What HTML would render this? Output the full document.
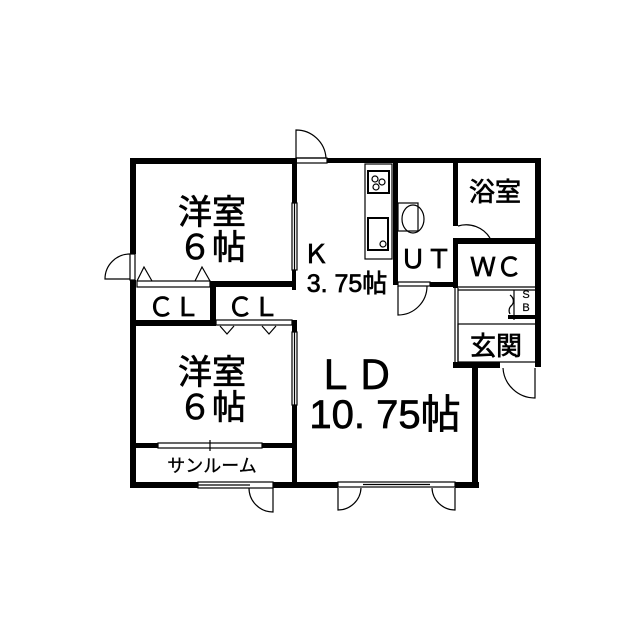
<!DOCTYPE html>
<html><head><meta charset="utf-8"><style>
html,body{margin:0;padding:0;background:#fff;}
svg{display:block}
text{font-family:"Liberation Sans","Noto Sans CJK JP",sans-serif;fill:#000;stroke:#000;stroke-width:0.7;}
</style></head><body>
<svg width="640" height="640" viewBox="0 0 640 640" xmlns="http://www.w3.org/2000/svg">
<rect width="640" height="640" fill="#fff"/>
<g fill="#000">
<rect x="130" y="158" width="6" height="96"/>
<rect x="130" y="280" width="6" height="208"/>
<rect x="130" y="158" width="166" height="6"/>
<rect x="327" y="158" width="213" height="5"/>
<rect x="292" y="158" width="5" height="45"/>
<rect x="292" y="270" width="4" height="20"/>
<rect x="130" y="281" width="6" height="45"/>
<rect x="210" y="281" width="86" height="6"/>
<rect x="210" y="281" width="6" height="45"/>
<rect x="130" y="320" width="86" height="6"/>
<rect x="292" y="320" width="5" height="12"/>
<rect x="292" y="405" width="5" height="83"/>
<rect x="130" y="443" width="28" height="5"/>
<rect x="262" y="443" width="35" height="5"/>
<rect x="130" y="482" width="68" height="6"/>
<rect x="273" y="482" width="65" height="6"/>
<rect x="455" y="482" width="24" height="6"/>
<rect x="472" y="362" width="6" height="126"/>
<rect x="393" y="158" width="5" height="127"/>
<rect x="430" y="282" width="28" height="5"/>
<rect x="453" y="158" width="5" height="68"/>
<rect x="453" y="238" width="5" height="50"/>
<rect x="453" y="238" width="87" height="6"/>
<rect x="535" y="158" width="6" height="209"/>
<rect x="508" y="315" width="30" height="4"/>
<rect x="453" y="362" width="47" height="6"/>
</g>
<g fill="none" stroke="#000" stroke-width="1.2">
<path d="M296 158 V130 A30 30 0 0 1 326 158 Z"/>
<rect x="296" y="158" width="31" height="5"/>
<path d="M130 254 A25 25 0 0 0 105 279 H130"/>
<rect x="130" y="254" width="5" height="26"/>
<rect x="292" y="203" width="5" height="67"/><line x1="294.5" y1="203" x2="294.5" y2="270"/>
<rect x="292" y="332" width="5" height="73"/><line x1="294.5" y1="332" x2="294.5" y2="405"/>
<rect x="137" y="281" width="73" height="6"/>
<rect x="216" y="320" width="76" height="5"/>
<path d="M137 281 L144 267 L152 281 M195 281 L202 267 L210 281"/>
<path d="M220 326 L227 334 L234 326 M262 326 L269 334 L276 326"/>
<rect x="158" y="443" width="104" height="5"/><line x1="210" y1="440" x2="210" y2="451"/>
<rect x="198" y="482" width="75" height="6"/><line x1="198" y1="485" x2="250" y2="485"/>
<path d="M273 488 V512 A24 24 0 0 1 249 488"/>
<rect x="338" y="482" width="117" height="5"/><line x1="363" y1="484.5" x2="430" y2="484.5"/>
<path d="M338 488 V510 A23 23 0 0 0 361 488 M455 488 V510 A23 23 0 0 1 432 488"/>
<path d="M535 368 V398 A32 32 0 0 1 503 368"/>
<rect x="398" y="282" width="32" height="4"/>
<path d="M398 286 V315 A29 29 0 0 0 427 286"/>
<path d="M458 226 A28 28 0 0 1 490 238"/>
<rect x="458" y="324" width="78" height="38"/>
<path d="M455 288 V362 M458 288 V362 M458 287 H535 M458 290 H535"/>
<path d="M514 290 V320 M510 295 A10 8 0 0 1 512 305 A10 8 0 0 0 510 314"/>
<rect x="365" y="164" width="27" height="95"/>
<rect x="368" y="171" width="21" height="22" stroke-width="2"/>
<circle cx="375" cy="179" r="3"/><circle cx="382" cy="182" r="3"/><circle cx="376" cy="187" r="3"/>
<rect x="368" y="218" width="20" height="32" stroke-width="2"/>
<circle cx="383" cy="244" r="3"/>
<rect x="398" y="203" width="20" height="28"/>
<ellipse cx="413" cy="219" rx="11" ry="14"/>
</g>
<g font-size="34" text-anchor="middle">
<text x="212" y="224">洋室</text>
<text x="212" y="259">６帖</text>
<text x="212" y="384">洋室</text>
<text x="212" y="419">６帖</text>
</g>
<g font-size="26" text-anchor="middle">
<text x="174" y="316">ＣＬ</text>
<text x="253" y="316">ＣＬ</text>
<text x="426" y="268">ＵＴ</text>
<text x="496" y="276">ＷＣ</text>
<text x="495" y="201">浴室</text>
<text x="496" y="355">玄関</text>
<text x="316" y="263">Ｋ</text>
</g>
<text x="347" y="292" font-size="25" text-anchor="middle">3. 75帖</text>
<text x="212" y="472" font-size="18" text-anchor="middle" style="stroke-width:0.3">サンルーム</text>
<text x="355" y="389" font-size="40" text-anchor="middle">ＬＤ</text>
<text x="385" y="428" font-size="40" text-anchor="middle">10. 75帖</text>
<text x="526" y="298" font-size="11" text-anchor="middle" style="stroke-width:0.2">S</text>
<text x="526" y="311" font-size="11" text-anchor="middle" style="stroke-width:0.2">B</text>
</svg>
</body></html>
